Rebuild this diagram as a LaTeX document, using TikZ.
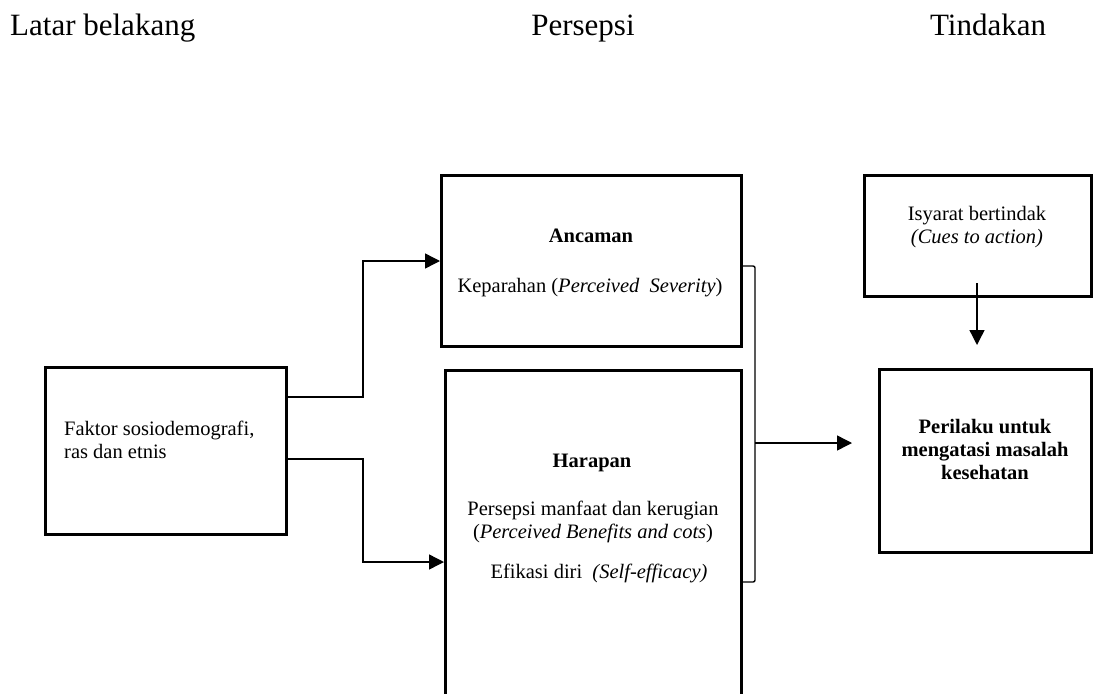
\documentclass[tikz,border=0pt]{standalone}
\usepackage{fontspec}
\setmainfont{Liberation Serif}
\usetikzlibrary{arrows.meta}
\tikzset{
  box/.style={draw, line width=3pt, inner sep=0pt},
  conn/.style={line width=1.4pt},
  arr/.style={conn, -{Triangle[length=15pt,width=15pt]}},
  txt/.style={font=\fontsize{20.5}{24}\selectfont, inner sep=0pt},
  ttl/.style={font=\fontsize{31}{37}\selectfont, inner sep=0pt}
}
\begin{document}
\begin{tikzpicture}[x=1pt, y=-1pt]
\useasboundingbox (0,0) rectangle (1094,693);
% titles
\node[ttl, anchor=base west] (t1) at (10,36) {Latar belakang};
\node[ttl, anchor=base] (t2) at (583,36) {Persepsi};
\node[ttl, anchor=base] (t3) at (988,36) {Tindakan};
% boxes
\node[box, minimum width=241pt, minimum height=167pt] (faktor) at (166,451) {};
\node[box, minimum width=300pt, minimum height=171pt] (ancaman) at (591.5,261) {};
\node[box, minimum width=296pt, minimum height=350pt] (harapan) at (593.5,545) {};
\node[box, minimum width=227pt, minimum height=121pt] (isyarat) at (978,236) {};
\node[box, minimum width=212pt, minimum height=183pt] (perilaku) at (985.5,461) {};
% texts
\node[txt, anchor=base west] (f1) at (64,435) {Faktor sosiodemografi,};
\node[txt, anchor=base west] (f2) at (64,458) {ras dan etnis};
\node[txt, anchor=base] (a1) at (591,242) {\textbf{Ancaman}};
\node[txt, anchor=base] (a2) at (590,292) {Keparahan (\textit{Perceived~ Severity})};
\node[txt, anchor=base] (h1) at (592,467) {\textbf{Harapan}};
\node[txt, anchor=base] (h2) at (593,515) {Persepsi manfaat dan kerugian};
\node[txt, anchor=base] (h3) at (593,538) {(\textit{Perceived Benefits and cots})};
\node[txt, anchor=base] (h4) at (599,578) {Efikasi diri~ \textit{(Self-efficacy)}};
\node[txt, anchor=base] (i1) at (977,220) {Isyarat bertindak};
\node[txt, anchor=base] (i2) at (977,243) {\textit{(Cues to action)}};
\node[txt, anchor=base] (p1) at (985,433) {\textbf{Perilaku untuk}};
\node[txt, anchor=base] (p2) at (985,456) {\textbf{mengatasi masalah}};
\node[txt, anchor=base] (p3) at (985,479) {\textbf{kesehatan}};
% connectors
\coordinate (bj) at (755,443);
\draw[arr] ([yshift=54pt]faktor.east) -- ++(75,0) |- (ancaman.west);
\draw[arr] ([yshift=-8pt]faktor.east) -- ++(75,0) |- ([yshift=-17pt]harapan.west);
\draw[conn, rounded corners=2pt] ([yshift=-5pt]ancaman.east) -| (bj) |- ([yshift=-37pt]harapan.east);
\draw[arr] (bj) -- ([xshift=-26pt, yshift=18pt]perilaku.west);
\draw[arr] ([xshift=-1pt, yshift=15pt]isyarat.south) -- ([xshift=-8.5pt, yshift=23pt]perilaku.north);
\end{tikzpicture}
\end{document}
